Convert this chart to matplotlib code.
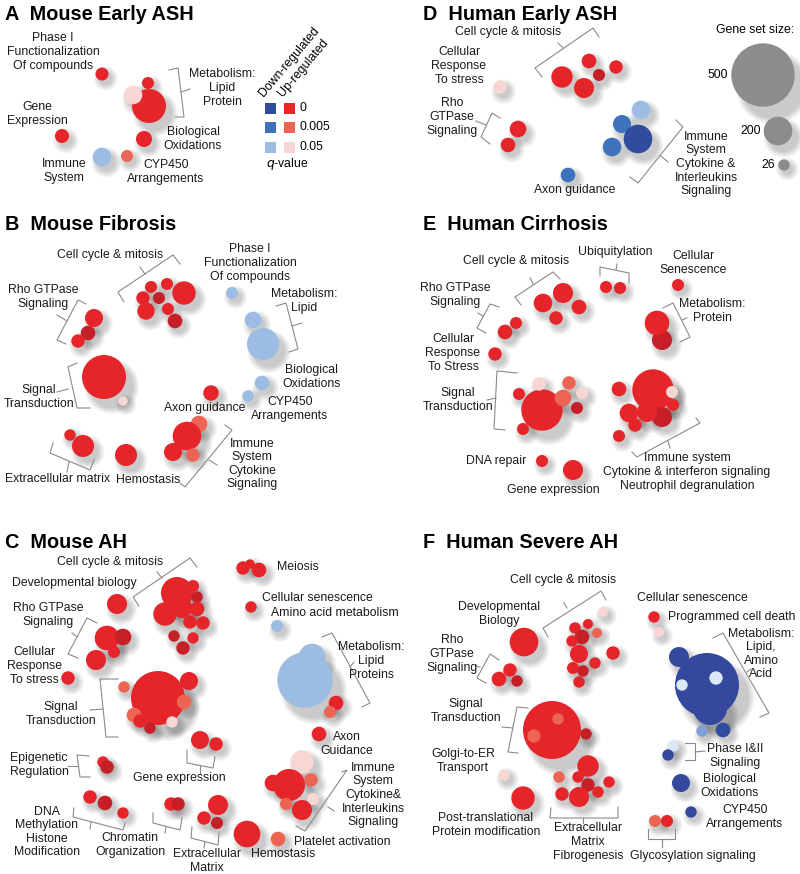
import matplotlib
matplotlib.use('Agg')
import matplotlib.pyplot as plt
from matplotlib.patches import Circle, Rectangle

plt.rcParams['font.family'] = ['Liberation Sans', 'DejaVu Sans']

# colour codes: q-value classes (up / down regulated) plus shading tones
COLS = {'R': '#e6252b', 'S': '#ec6553', 'P': '#f8d6d4', 'D': '#c61f27',
        'B1': '#2f4c9e', 'B2': '#3e72bd', 'B3': '#9cbce4',
        'N': '#34489d', 'W': '#dbe9f7', 'M': '#7f9fd6', 'G': '#8c8c8c'}

# bubbles per panel: (x, y, radius, colour code)
A_BUBBLES = [(102, 74, 6.5, 'R'), (148, 83, 6, 'R'), (149, 106, 17, 'R'), (133, 95, 9.3, 'P'),
             (62, 136, 7, 'R'), (144, 139, 8, 'R'), (102, 157, 9.3, 'B3'), (127, 156, 6, 'S')]
B_BUBBLES = [(151, 287, 6, 'R'), (167, 284, 6, 'R'), (184, 293, 11.7, 'R'), (143, 298, 6.7, 'R'),
             (159, 298, 6, 'D'), (146, 311, 8.7, 'R'), (168, 309, 6, 'R'), (175, 321, 7.3, 'D'),
             (232, 293, 6, 'B3'), (253, 320, 8.3, 'B3'), (263, 344, 16, 'B3'),
             (262, 383, 7.3, 'B3'), (248, 396, 5.7, 'B3'), (211, 393, 7.7, 'R'),
             (94, 318, 9, 'R'), (88, 333, 7.3, 'D'), (78, 341, 6.7, 'R'),
             (104, 377, 22, 'R'), (123, 401, 4.7, 'P'),
             (70, 435, 5.7, 'R'), (83, 446, 11, 'R'), (126, 455, 11, 'R'),
             (199, 424, 8.3, 'S'), (187, 436, 14.3, 'R'), (173, 452, 9, 'R'), (193, 455, 6.7, 'S')]
C_BUBBLES = [(177, 593, 16, 'R'), (193, 586, 6, 'R'), (197, 597, 5.7, 'D'), (165, 614, 11.7, 'R'),
             (182, 608, 10, 'R'), (197, 609, 7.3, 'R'), (190, 622, 6.7, 'R'), (203, 623, 6.7, 'R'),
             (174, 636, 5.7, 'D'), (193, 638, 5.7, 'R'), (183, 648, 6.7, 'D'),
             (117, 604, 10, 'R'),
             (107, 638, 12.3, 'R'), (123, 637, 8.3, 'D'), (114, 652, 6, 'R'), (96, 660, 10, 'R'),
             (68, 678, 6.7, 'R'),
             (158, 698, 27, 'R'), (189, 681, 9, 'R'), (124, 687, 5.7, 'S'), (184, 702, 7.3, 'S'),
             (134, 715, 7.3, 'S'), (140, 721, 6.7, 'R'), (172, 722, 5.7, 'P'), (150, 728, 5.7, 'D'),
             (200, 740, 9, 'R'), (216, 744, 6.7, 'R'),
             (103, 762, 5.7, 'R'), (107, 767, 6.7, 'D'),
             (90, 797, 6.7, 'R'), (105, 803, 7.3, 'D'), (123, 813, 5.7, 'R'),
             (171, 804, 6.7, 'R'), (178, 804, 6.7, 'D'),
             (218, 805, 10, 'R'), (204, 818, 6.7, 'R'), (217, 823, 6, 'D'),
             (247, 834, 13.3, 'R'), (278, 839, 7.3, 'S'),
             (243, 568, 6.7, 'R'), (250, 564, 4.7, 'R'), (259, 570, 7.3, 'R'),
             (251, 607, 5.7, 'R'), (277, 626, 6, 'B3'),
             (305, 680, 27.7, 'B3'), (312, 657, 13.3, 'B3'), (336, 703, 7.3, 'R'), (330, 712, 6, 'S'),
             (319, 734, 7.3, 'R'),
             (302, 762, 11.7, 'P'), (289, 785, 16, 'R'), (273, 783, 8.3, 'R'), (311, 780, 6.7, 'S'),
             (313, 799, 6, 'P'), (286, 804, 6, 'S'), (302, 810, 10, 'R')]
D_BUBBLES = [(562, 77, 10.7, 'R'), (589, 61, 7.3, 'R'), (599, 75, 6, 'D'), (616, 67, 6.7, 'R'),
             (584, 88, 10, 'R'), (500, 87, 6.7, 'P'),
             (518, 129, 8.3, 'R'), (508, 145, 7.3, 'R'),
             (641, 110, 9.3, 'B3'), (622, 124, 9, 'B2'), (638, 139, 14.3, 'B1'),
             (612, 147, 9.3, 'B2'), (568, 175, 7.3, 'B2')]
E_BUBBLES = [(543, 303, 9.3, 'R'), (563, 293, 10, 'R'), (579, 307, 7.3, 'R'), (556, 318, 6.7, 'R'),
             (606, 287, 6, 'R'), (620, 288, 6, 'R'), (678, 285, 6, 'R'),
             (662, 340, 10, 'D'), (657, 323, 12.3, 'R'),
             (516, 323, 6, 'R'), (505, 332, 7.3, 'R'), (495, 354, 6.7, 'R'),
             (542, 410, 20.7, 'R'), (539, 384, 6.7, 'P'), (519, 394, 6, 'R'), (569, 383, 6.7, 'S'),
             (563, 398, 8.3, 'S'), (582, 393, 6, 'P'), (577, 408, 6, 'D'), (523, 429, 6, 'R'),
             (653, 390, 20.7, 'R'), (619, 389, 7.3, 'R'), (672, 392, 6, 'P'), (673, 405, 6, 'R'),
             (662, 417, 10, 'D'), (629, 413, 9.3, 'R'), (647, 412, 10, 'R'), (635, 425, 6.7, 'R'),
             (619, 436, 6, 'R'),
             (542, 461, 6, 'R'), (573, 470, 10, 'R')]
F_BUBBLES = [(524, 642, 14.3, 'R'),
             (499, 679, 7.3, 'R'), (510, 670, 6.7, 'R'), (517, 681, 5.7, 'D'),
             (603, 612, 5, 'P'), (575, 628, 5.7, 'R'), (588, 624, 5, 'R'), (597, 633, 5, 'S'),
             (582, 637, 7.3, 'D'), (572, 641, 5.7, 'R'), (579, 654, 9, 'R'), (613, 653, 6.7, 'R'),
             (595, 663, 5.7, 'R'), (573, 668, 6, 'R'), (583, 671, 5.7, 'D'), (579, 682, 5.7, 'R'),
             (552, 730, 29, 'R'), (558, 719, 5.7, 'S'), (534, 736, 6.7, 'S'), (586, 734, 5.7, 'D'),
             (504, 775, 5.7, 'P'), (523, 798, 11.7, 'R'),
             (588, 766, 10.7, 'R'), (559, 777, 5.7, 'S'), (578, 777, 5.7, 'R'), (588, 785, 6.7, 'D'),
             (609, 782, 5.7, 'R'), (562, 794, 6.7, 'R'), (579, 797, 10, 'R'), (598, 792, 5.7, 'R'),
             (654, 617, 5.7, 'R'), (659, 632, 5, 'P'),
             (702, 731, 5.7, 'M'), (723, 730, 7.3, 'B1'),
             (679, 657, 10, 'N'), (707, 685, 32, 'N'), (710, 708, 17, 'N'),
             (682, 685, 5.7, 'W'), (716, 678, 6.7, 'W'),
             (673, 746, 5.7, 'W'), (668, 755, 5.7, 'N'),
             (681, 783, 9, 'N'), (691, 812, 5.7, 'N'),
             (655, 821, 6, 'S'), (667, 821, 6, 'R')]

# panel titles
TITLES = [('A  Mouse Early ASH', 5, 14), ('B  Mouse Fibrosis', 5, 224), ('C  Mouse AH', 5, 542),
          ('D  Human Early ASH', 423, 14), ('E  Human Cirrhosis', 423, 224), ('F  Human Severe AH', 423, 542)]

# pathway labels: (text, x centre, y centre)
LABELS = [
    ('Phase I\nFunctionalization\nOf compounds', 53, 52), ('Metabolism:\nLipid\nProtein', 222, 88),
    ('Gene\nExpression', 37, 114), ('Biological\nOxidations', 193, 139),
    ('Immune\nSystem', 64, 171), ('CYP450\nArrangements', 166, 172),
    ('Cell cycle & mitosis', 508, 32), ('Cellular\nResponse\nTo stress', 459, 66),
    ('Rho\nGTPase\nSignaling', 452, 117), ('Axon guidance', 575, 190),
    ('Immune\nSystem\nCytokine &\nInterleukins\nSignaling', 706, 164),
    ('Cell cycle & mitosis', 110, 255), ('Phase I\nFunctionalization\nOf compounds', 250, 263),
    ('Metabolism:\nLipid', 304, 301), ('Rho GTPase\nSignaling', 43, 297),
    ('Signal\nTransduction', 39, 397), ('Biological\nOxidations', 312, 377),
    ('CYP450\nArrangements', 290, 409), ('Axon guidance', 205, 408),
    ('Extracellular matrix', 58, 479), ('Hemostasis', 148, 480),
    ('Immune\nSystem\nCytokine\nSignaling', 252, 464),
    ('Cell cycle & mitosis', 110, 562), ('Developmental biology', 74, 583),
    ('Rho GTPase\nSignaling', 48, 615), ('Cellular\nResponse\nTo stress', 34, 666),
    ('Signal\nTransduction', 61, 714), ('Epigenetic\nRegulation', 39, 765),
    ('Gene expression', 179, 778), ('DNA\nMethylation\nHistone\nModification', 47, 832),
    ('Chromatin\nOrganization', 130, 845), ('Extracellular\nMatrix', 207, 861),
    ('Hemostasis', 283, 854), ('Platelet activation', 342, 842),
    ('Immune\nSystem\nCytokine&\nInterleukins\nSignaling', 373, 795),
    ('Axon\nGuidance', 347, 744), ('Meiosis', 298, 567), ('Cellular senescence', 317, 598),
    ('Amino acid metabolism', 335, 613), ('Metabolism:\nLipid\nProteins', 371, 661),
    ('Cell cycle & mitosis', 516, 261), ('Ubiquitylation', 615, 252),
    ('Cellular\nSenescence', 693, 263), ('Rho GTPase\nSignaling', 455, 295),
    ('Metabolism:\nProtein', 712, 311), ('Cellular\nResponse\nTo Stress', 453, 353),
    ('Signal\nTransduction', 458, 400), ('DNA repair', 496, 461), ('Gene expression', 553, 490),
    ('Immune system\nCytokine & interferon signaling\nNeutrophil degranulation', 687, 472),
    ('Cell cycle & mitosis', 563, 580), ('Developmental\nBiology', 499, 614),
    ('Rho\nGTPase\nSignaling', 452, 654), ('Signal\nTransduction', 466, 711),
    ('Golgi-to-ER\nTransport', 463, 761), ('Post-translational\nProtein modification', 486, 825),
    ('Extracellular\nMatrix\nFibrogenesis', 588, 842), ('Glycosylation signaling', 693, 856),
    ('CYP450\nArrangements', 745, 817), ('Biological\nOxidations', 730, 786),
    ('Phase I&II\nSignaling', 735, 756), ('Metabolism:\nLipid,\nAmino\nAcid', 761, 654),
    ('Cellular senescence', 692, 598), ('Programmed cell death', 732, 617),
]

# brackets grouping bubbles: (main path, stub)
BRACKETS = [
    ([(169, 70), (178, 68), (184, 117), (175, 117)], [(181, 92), (190, 89)]),
    ([(542, 77), (535, 68), (593, 28), (599, 37)], [(563, 48), (558, 43)]),
    ([(500, 118), (492, 113), (481, 137), (490, 144)], [(486, 125), (476, 121)]),
    ([(676, 120), (683, 127), (638, 183), (630, 177)], [(661, 156), (668, 162)]),
    ([(124, 302), (118, 292), (173, 255), (180, 264)], [(145, 274), (140, 267)]),
    ([(86, 304), (78, 300), (57, 340), (66, 344)], [(67, 321), (57, 315)]),
    ([(276, 306), (286, 303), (298, 349), (289, 352)], [(292, 326), (302, 323)]),
    ([(77, 363), (68, 367), (77, 408), (90, 408)], [(57, 392), (68, 389)]),
    ([(53, 443), (50, 453), (90, 470), (94, 460)], [(69, 462), (67, 472)]),
    ([(225, 425), (232, 430), (185, 487), (180, 483)], [(209, 460), (217, 465)]),
    ([(139, 606), (133, 597), (190, 558), (197, 567)], [(162, 578), (157, 572)]),
    ([(97, 623), (87, 618), (68, 654), (78, 658)], [(77, 637), (72, 633)]),
    ([(118, 679), (100, 679), (106, 737), (118, 737)], [(90, 710), (103, 709)]),
    ([(89, 756), (77, 755), (80, 777), (90, 777)], [(68, 766), (78, 766)]),
    ([(187, 750), (187, 763), (213, 768), (215, 757)], [(200, 766), (200, 773)]),
    ([(74, 808), (73, 817), (123, 830), (125, 823)], [(91, 822), (90, 829)]),
    ([(153, 813), (153, 823), (180, 830), (182, 818)], [(166, 827), (165, 833)]),
    ([(192, 827), (191, 838), (218, 845), (219, 833)], [(205, 842), (204, 848)]),
    ([(342, 772), (347, 770), (305, 831), (296, 826)], [(328, 807), (334, 811)]),
    ([(322, 637), (332, 633), (370, 703), (362, 707)], [(350, 667), (354, 662)]),
    ([(521, 305), (515, 297), (553, 272), (560, 279)], [(533, 284), (530, 278)]),
    ([(600, 276), (600, 267), (629, 273), (629, 283)], [(616, 270), (617, 264)]),
    ([(499, 307), (490, 304), (477, 328), (486, 333)], [(483, 316), (478, 313)]),
    ([(663, 308), (673, 303), (690, 337), (680, 342)], [(682, 320), (687, 318)]),
    ([(517, 373), (497, 371), (494, 429), (505, 430)], [(487, 400), (496, 398)]),
    ([(696, 418), (700, 423), (637, 457), (632, 452)], [(668, 441), (670, 448)]),
    ([(548, 637), (543, 628), (601, 591), (606, 600)], [(567, 608), (564, 603)]),
    ([(499, 660), (490, 654), (477, 678), (486, 683)], [(480, 667), (476, 666)]),
    ([(528, 708), (517, 707), (508, 752), (518, 753)], [(502, 727), (513, 728)]),
    ([(551, 808), (550, 818), (618, 818), (618, 807)], [(583, 818), (583, 823)]),
    ([(648, 829), (648, 839), (675, 839), (675, 829)], [(662, 839), (662, 847)]),
    ([(685, 743), (695, 743), (695, 760), (685, 760)], [(695, 752), (705, 751)]),
    ([(713, 638), (723, 633), (769, 713), (760, 717)], [(747, 672), (751, 669)]),
]

# q-value legend
Q_LABELS = ['0', '0.005', '0.05']
Q_DOWN = ['B1', 'B2', 'B3']
Q_UP = ['R', 'S', 'P']
# gene set size legend
SIZE_LABELS = ['500', '200', '26']
SIZE_R = [31.7, 14.3, 5.7]
SIZE_Y = [75, 131, 165]
SIZE_X = [763, 778, 784]

FS = 8.8

fig = plt.figure(figsize=(8, 8.74), dpi=100)
ax = fig.add_axes([0, 0, 1, 1])
ax.set_xlim(0, 800)
ax.set_ylim(874, 0)
ax.axis('off')


def bubble(x, y, r, c):
    # soft drop shadow to the lower right
    for k in range(5):
        ax.add_patch(Circle((x + 0.25 * r + 2, y + 0.3 * r + 2.5), r + k * 1.4,
                            color='#000000', alpha=0.045, lw=0, zorder=1))
    ax.add_patch(Circle((x, y), r, color=COLS[c], lw=0, zorder=2))


for group in [A_BUBBLES, B_BUBBLES, C_BUBBLES, D_BUBBLES, E_BUBBLES, F_BUBBLES]:
    for x, y, r, c in group:
        bubble(x, y, r, c)

for path, stub in BRACKETS:
    ax.plot(*zip(*path), color='#8a8a8a', lw=0.8, zorder=3, solid_joinstyle='miter')
    ax.plot(*zip(*stub), color='#8a8a8a', lw=0.8, zorder=3)

for txt, x, y in LABELS:
    ax.text(x, y, txt, ha='center', va='center', fontsize=FS, linespacing=1.17,
            color='#1a1a1a', zorder=4)

for txt, x, y in TITLES:
    ax.text(x, y, txt, ha='left', va='center', fontsize=14.3, fontweight='bold', zorder=4)

# q-value legend (panel A)
for i, lab in enumerate(Q_LABELS):
    yy = 108 + i * 19.5
    ax.add_patch(Rectangle((265, yy - 5.5), 11, 11, color=COLS[Q_DOWN[i]], lw=0))
    ax.add_patch(Rectangle((284, yy - 5.5), 11, 11, color=COLS[Q_UP[i]], lw=0))
    ax.text(299, yy, lab, ha='left', va='center', fontsize=FS)
ax.text(266, 99, 'Down-regulated', rotation=50, rotation_mode='anchor',
        ha='left', va='bottom', fontsize=FS)
ax.text(285, 99, 'Up-regulated', rotation=50, rotation_mode='anchor',
        ha='left', va='bottom', fontsize=FS)
ax.text(287, 164, '$q$-value', ha='center', va='center', fontsize=FS)

# gene set size legend (panel D)
ax.text(755, 30, 'Gene set size:', ha='center', va='center', fontsize=FS)
for lab, r, x, y in zip(SIZE_LABELS, SIZE_R, SIZE_X, SIZE_Y):
    bubble(x, y, r, 'G')
    ax.text(x - r - 3, y, lab, ha='right', va='center', fontsize=FS)

fig.savefig('out.png', dpi=100)
